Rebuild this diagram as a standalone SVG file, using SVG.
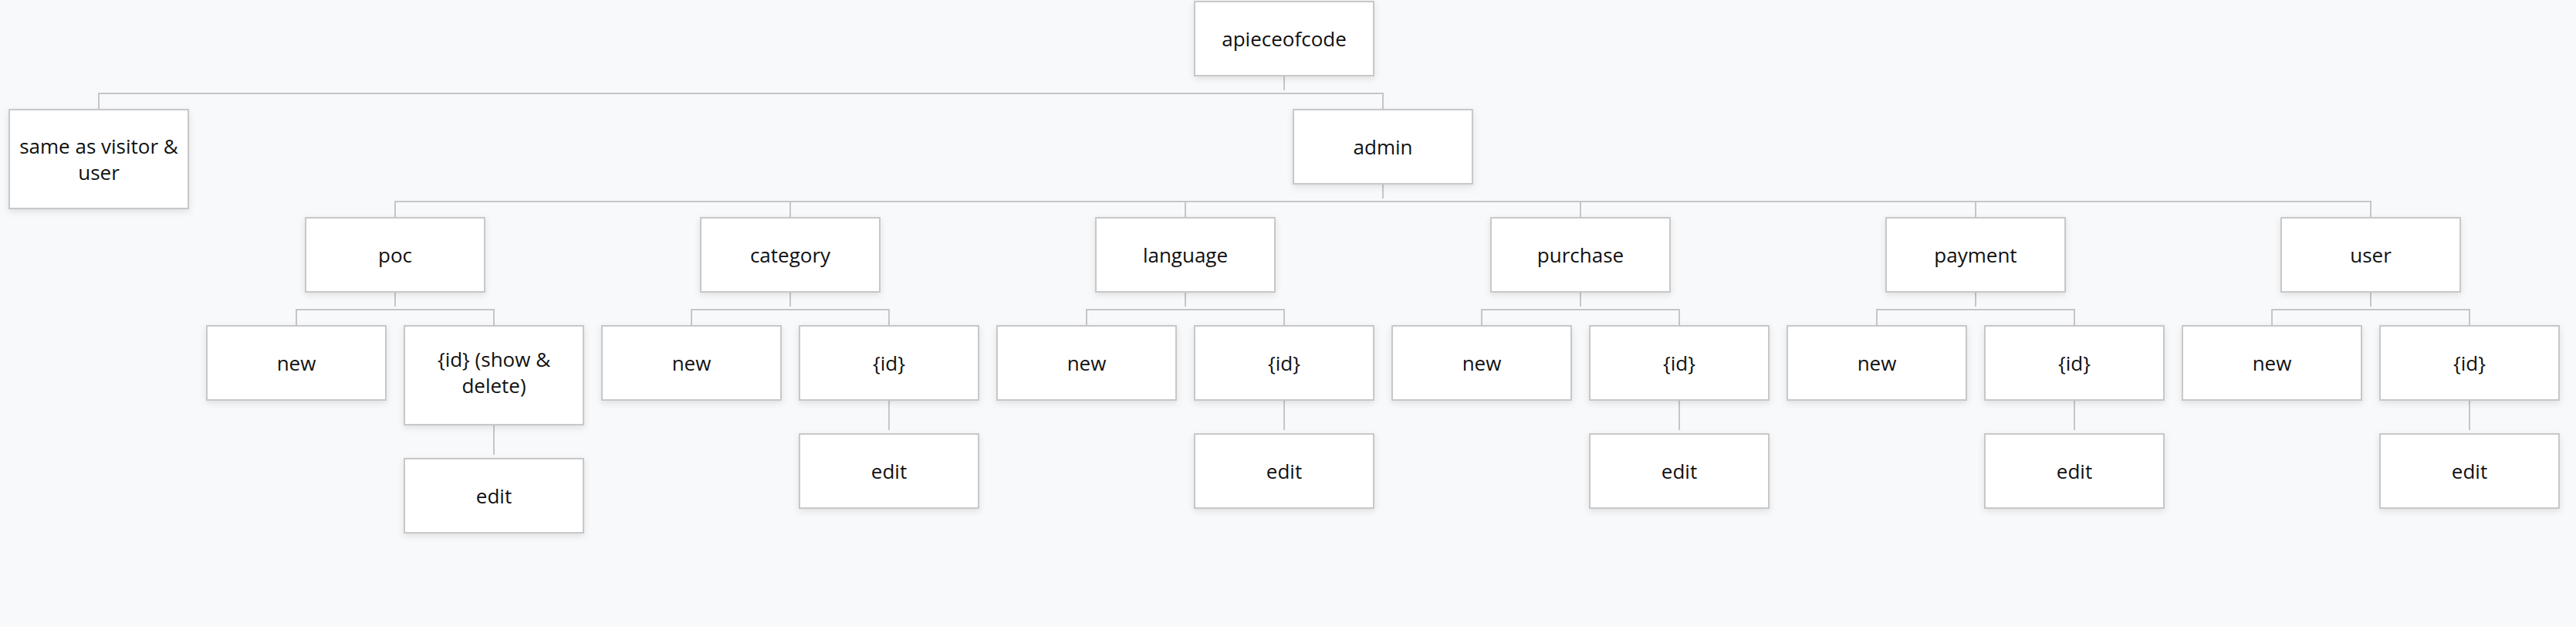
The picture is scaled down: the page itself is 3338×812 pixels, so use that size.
<svg xmlns="http://www.w3.org/2000/svg" width="3338" height="812" viewBox="0 0 3338 812">
<style>
.box{fill:#ffffff;stroke:#c8c8c8;stroke-width:2;filter:url(#sh)}
.lbl{font-family:"Open Sans","Noto Sans","DejaVu Sans",sans-serif;font-size:26px;fill:#111111;text-anchor:middle}
.conn{fill:none;stroke:#c6c6c8;stroke-width:2}
</style>
<defs>
<filter id="sh" x="-20%" y="-30%" width="140%" height="170%">
<feDropShadow dx="0" dy="3" stdDeviation="4" flood-color="#000000" flood-opacity="0.10"/>
</filter>
</defs>
<rect x="0" y="0" width="3338" height="812" fill="#f8f9fb"/>
<g id="connectors" class="conn">
<path d="M1664 99 V117"/>
<path d="M128 141 V121 H1792 V141"/>
<path d="M1792 239 V257"/>
<path d="M512 281 V261 H3072 V281"/>
<path d="M1024 261 V281 M1536 261 V281 M2048 261 V281 M2560 261 V281"/>
<path d="M512 379 V397 M384 421 V401 H640 V421"/>
<path d="M1024 379 V397 M896 421 V401 H1152 V421"/>
<path d="M1536 379 V397 M1408 421 V401 H1664 V421"/>
<path d="M2048 379 V397 M1920 421 V401 H2176 V421"/>
<path d="M2560 379 V397 M2432 421 V401 H2688 V421"/>
<path d="M3072 379 V397 M2944 421 V401 H3200 V421"/>
<path d="M640 551 V589"/>
<path d="M1152 519 V557"/>
<path d="M1664 519 V557"/>
<path d="M2176 519 V557"/>
<path d="M2688 519 V557"/>
<path d="M3200 519 V557"/>
</g>
<g id="n-root"><rect class="box" x="1548" y="2" width="232" height="96"/><text class="lbl" x="1664" y="60">apieceofcode</text></g>
<g id="n-same"><rect class="box" x="12" y="142" width="232" height="128"/><text class="lbl" x="128" y="199">same as visitor &amp;</text><text class="lbl" x="128" y="233">user</text></g>
<g id="n-admin"><rect class="box" x="1676" y="142" width="232" height="96"/><text class="lbl" x="1792" y="200">admin</text></g>

<g id="n-poc"><rect class="box" x="396" y="282" width="232" height="96"/><text class="lbl" x="512" y="340">poc</text></g>
<g id="n-poc-new"><rect class="box" x="268" y="422" width="232" height="96"/><text class="lbl" x="384" y="480">new</text></g>
<g id="n-poc-id"><rect class="box" x="524" y="422" width="232" height="128"/><text class="lbl" x="640" y="475">{id} (show &amp;</text><text class="lbl" x="640" y="509">delete)</text></g>
<g id="n-poc-edit"><rect class="box" x="524" y="594" width="232" height="96"/><text class="lbl" x="640" y="652">edit</text></g>

<g id="n-category"><rect class="box" x="908" y="282" width="232" height="96"/><text class="lbl" x="1024" y="340">category</text></g>
<g id="n-category-new"><rect class="box" x="780" y="422" width="232" height="96"/><text class="lbl" x="896" y="480">new</text></g>
<g id="n-category-id"><rect class="box" x="1036" y="422" width="232" height="96"/><text class="lbl" x="1152" y="480">{id}</text></g>
<g id="n-category-edit"><rect class="box" x="1036" y="562" width="232" height="96"/><text class="lbl" x="1152" y="620">edit</text></g>

<g id="n-language"><rect class="box" x="1420" y="282" width="232" height="96"/><text class="lbl" x="1536" y="340">language</text></g>
<g id="n-language-new"><rect class="box" x="1292" y="422" width="232" height="96"/><text class="lbl" x="1408" y="480">new</text></g>
<g id="n-language-id"><rect class="box" x="1548" y="422" width="232" height="96"/><text class="lbl" x="1664" y="480">{id}</text></g>
<g id="n-language-edit"><rect class="box" x="1548" y="562" width="232" height="96"/><text class="lbl" x="1664" y="620">edit</text></g>

<g id="n-purchase"><rect class="box" x="1932" y="282" width="232" height="96"/><text class="lbl" x="2048" y="340">purchase</text></g>
<g id="n-purchase-new"><rect class="box" x="1804" y="422" width="232" height="96"/><text class="lbl" x="1920" y="480">new</text></g>
<g id="n-purchase-id"><rect class="box" x="2060" y="422" width="232" height="96"/><text class="lbl" x="2176" y="480">{id}</text></g>
<g id="n-purchase-edit"><rect class="box" x="2060" y="562" width="232" height="96"/><text class="lbl" x="2176" y="620">edit</text></g>

<g id="n-payment"><rect class="box" x="2444" y="282" width="232" height="96"/><text class="lbl" x="2560" y="340">payment</text></g>
<g id="n-payment-new"><rect class="box" x="2316" y="422" width="232" height="96"/><text class="lbl" x="2432" y="480">new</text></g>
<g id="n-payment-id"><rect class="box" x="2572" y="422" width="232" height="96"/><text class="lbl" x="2688" y="480">{id}</text></g>
<g id="n-payment-edit"><rect class="box" x="2572" y="562" width="232" height="96"/><text class="lbl" x="2688" y="620">edit</text></g>

<g id="n-user"><rect class="box" x="2956" y="282" width="232" height="96"/><text class="lbl" x="3072" y="340">user</text></g>
<g id="n-user-new"><rect class="box" x="2828" y="422" width="232" height="96"/><text class="lbl" x="2944" y="480">new</text></g>
<g id="n-user-id"><rect class="box" x="3084" y="422" width="232" height="96"/><text class="lbl" x="3200" y="480">{id}</text></g>
<g id="n-user-edit"><rect class="box" x="3084" y="562" width="232" height="96"/><text class="lbl" x="3200" y="620">edit</text></g>
</svg>
